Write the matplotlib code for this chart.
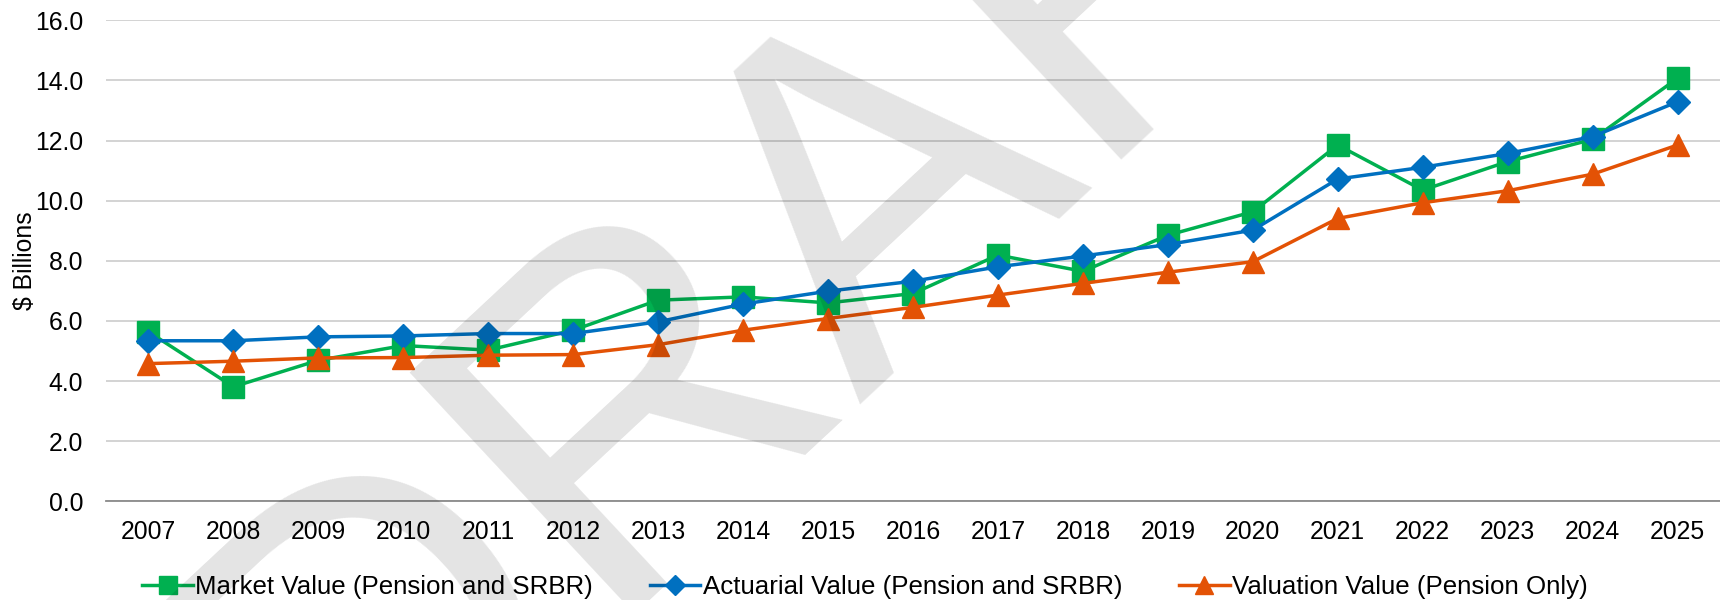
import matplotlib
matplotlib.use("Agg")
import matplotlib.pyplot as plt

plt.rcParams["font.family"] = ["Liberation Sans", "DejaVu Sans"]

years = [str(y) for y in range(2007, 2026)]

market_value = [5.64, 3.81, 4.69, 5.18, 5.03, 5.69, 6.69, 6.80, 6.60, 6.91,
                8.19, 7.65, 8.85, 9.63, 11.85, 10.35, 11.30, 12.04, 14.07]
actuarial_value = [5.34, 5.34, 5.47, 5.50, 5.58, 5.58, 5.97, 6.56, 6.99, 7.32,
                   7.80, 8.16, 8.54, 9.02, 10.72, 11.11, 11.57, 12.13, 13.29]
valuation_value = [4.58, 4.66, 4.77, 4.78, 4.86, 4.88, 5.21, 5.69, 6.08, 6.45,
                   6.86, 7.25, 7.62, 7.97, 9.41, 9.93, 10.33, 10.88, 11.85]

series_labels = [
    "Market Value (Pension and SRBR)",
    "Actuarial Value (Pension and SRBR)",
    "Valuation Value (Pension Only)",
]
series_colors = ["#00B050", "#0070C0", "#E35205"]

FS = 17.8

fig = plt.figure(figsize=(17.2, 6.0), dpi=100)
ax = fig.add_axes([0.0616, 0.1645, 0.9384, 0.8017])

x = list(range(len(years)))

ax.plot(x, market_value, color=series_colors[0], lw=2.5, marker="s",
        ms=16, mec=series_colors[0], label=series_labels[0], zorder=3)
ax.plot(x, actuarial_value, color=series_colors[1], lw=2.5, marker="D",
        ms=12.5, mec=series_colors[1], label=series_labels[1], zorder=4)
ax.plot(x, valuation_value, color=series_colors[2], lw=2.5, marker="^",
        ms=16, mec=series_colors[2], label=series_labels[2], zorder=5)

ax.set_xlim(-0.5, len(years) - 0.5)
ax.set_ylim(0, 16)
ax.set_yticks([0, 2, 4, 6, 8, 10, 12, 14, 16])
ax.set_yticklabels([f"{v:.1f}" for v in range(0, 17, 2)])
ax.set_xticks(x)
ax.set_xticklabels(years)

ax.tick_params(axis="both", length=0, labelsize=FS, colors="#000000")
ax.tick_params(axis="x", pad=13.5)
ax.tick_params(axis="y", pad=16.5)

ax.grid(axis="y", color="#d0d0d0", lw=1.3)
ax.set_axisbelow(True)
for side in ["top", "right", "left"]:
    ax.spines[side].set_visible(False)
ax.spines["bottom"].set_color("#8a8a8a")
ax.spines["bottom"].set_linewidth(1.3)

ax.set_ylabel("$ Billions", fontsize=FS)
ax.yaxis.set_label_coords(-0.043, 0.5)

ax.legend(loc="center", bbox_to_anchor=(0.503, 0.022), bbox_transform=fig.transFigure,
          ncol=3, frameon=False, fontsize=18.6, handlelength=1.95,
          handletextpad=0.1, columnspacing=2.2, markerscale=0.8)

# DRAFT watermark on top of the chart
fig.text(0.49, 0.645, "DRAFT", fontsize=345, color="#000000", alpha=0.11,
         rotation=43, ha="center", va="center", zorder=10,
         rotation_mode="anchor")

fig.savefig("out.png", dpi=100)
